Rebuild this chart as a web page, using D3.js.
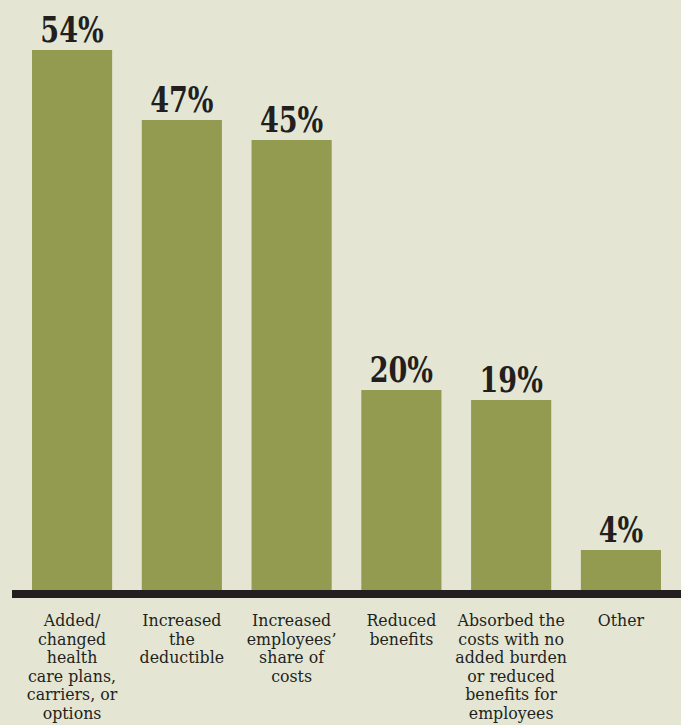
<!DOCTYPE html>
<html><head><meta charset="utf-8">
<script src="https://cdn.jsdelivr.net/npm/d3@7"></script>
<style>
html,body{margin:0;padding:0;background:#e4e6d3;}
svg{display:block;}
</style></head>
<body>
<svg id="chart" width="681" height="725"></svg>
<script>
const categories = [
  ["Added/","changed","health","care plans,","carriers, or","options"],
  ["Increased","the","deductible"],
  ["Increased","employees\u2019","share of","costs"],
  ["Reduced","benefits"],
  ["Absorbed the","costs with no","added burden","or reduced","benefits for","employees"],
  ["Other"]
];
const values = [54, 47, 45, 20, 19, 4];
const valueLabels = ["54%","47%","45%","20%","19%","4%"];

const svg = d3.select("#chart");
const W = 681, H = 725;
const baseY = 590;

const x = d3.scaleBand().domain(d3.range(values.length)).range([32, 661]).paddingInner(0.27).paddingOuter(0);
const y = d3.scaleLinear().domain([0, 54]).range([baseY, 50]);

svg.append("rect").attr("width", W).attr("height", H).attr("fill", "#e4e6d3");

svg.selectAll("rect.bar").data(values).join("rect")
  .attr("class","bar")
  .attr("x",(d,i)=>x(i)).attr("width",x.bandwidth())
  .attr("y",d=>y(d)).attr("height",d=>baseY-y(d))
  .attr("fill","#939b50");

svg.append("rect").attr("x",12).attr("y",baseY).attr("width",W-12).attr("height",8).attr("fill","#231f20");

svg.selectAll("text.val").data(values).join("text")
  .attr("class","val")
  .attr("transform",(d,i)=>`translate(${x(i)+x.bandwidth()/2},${y(d)-8}) scale(0.86,1)`)
  .attr("text-anchor","middle")
  .attr("font-family","'DejaVu Serif Condensed','DejaVu Serif',serif")
  .attr("font-weight","bold")
  .attr("font-size",35)
  .attr("fill","#231f20")
  .text((d,i)=>valueLabels[i]);

const cat = svg.selectAll("text.cat").data(categories).join("text")
  .attr("class","cat")
  .attr("x",(d,i)=>x(i)+x.bandwidth()/2)
  .attr("y",626)
  .attr("text-anchor","middle")
  .attr("font-family","'DejaVu Serif',serif")
  .attr("font-size",15.8)
  .attr("fill","#231f20");
cat.each(function(lines){
  d3.select(this).selectAll("tspan").data(lines).join("tspan")
    .attr("x",d3.select(this).attr("x"))
    .attr("dy",(d,j)=>j===0?0:18.6)
    .text(d=>d);
});
</script>
</body></html>
